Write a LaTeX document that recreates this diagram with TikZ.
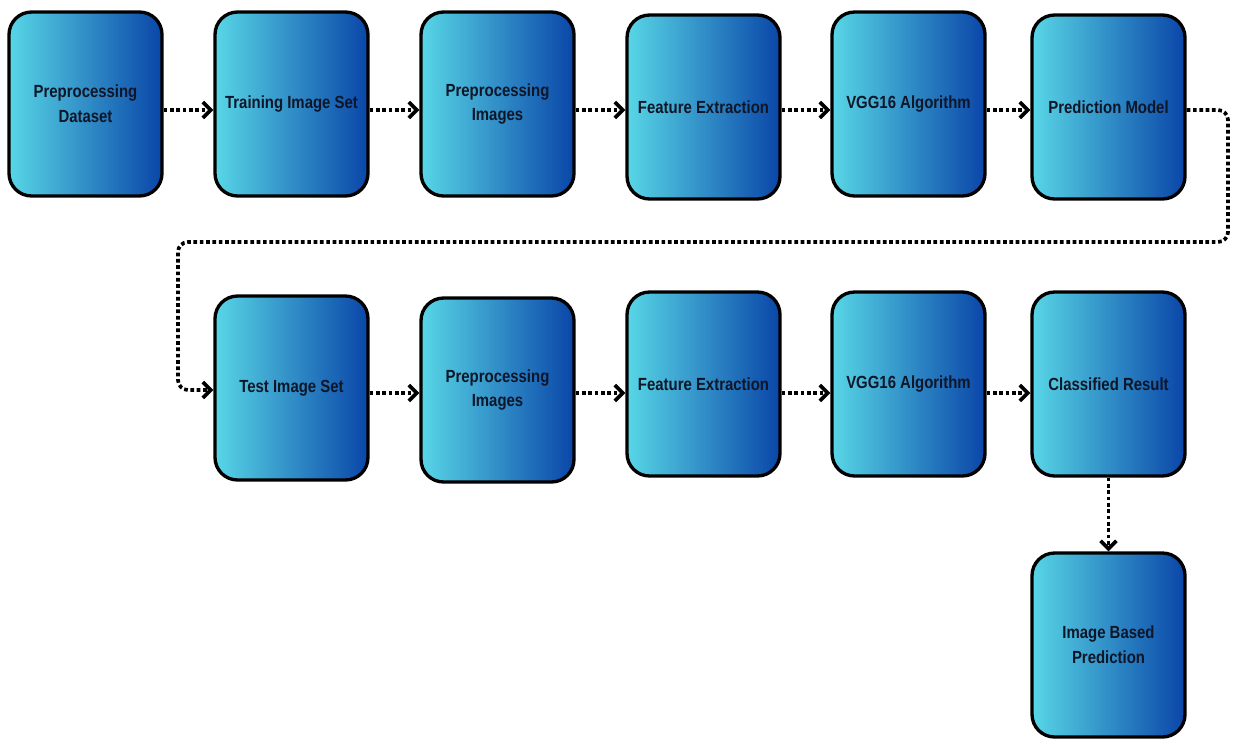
\documentclass[tikz,border=0pt]{standalone}
\usepackage{fontspec}
\setmainfont{Liberation Sans}[FakeStretch=0.85]
\usetikzlibrary{arrows.meta}
\definecolor{boxleft}{RGB}{88,214,230}
\definecolor{boxright}{RGB}{10,70,168}
\definecolor{boxtext}{RGB}{14,22,40}
\begin{document}
\begin{tikzpicture}[x=0.02cm, y=-0.02cm, line join=round, >={Straight Barb[length=4.5pt,width=9pt]},
  stage/.style={rounded corners=0.45cm, draw=black, line width=1.9pt, left color=boxleft, right color=boxright,
    minimum width=3.06cm, minimum height=3.68cm, align=center, text=boxtext, font=\bfseries\fontsize{10}{14}\selectfont},
  flow/.style={->, line width=2.1pt, dash pattern=on 2.1pt off 1.5pt}]
\useasboundingbox (0,0) rectangle (1236,738);
% training row
\node[stage] (pd)  at (85.5,104)  {Preprocessing\\Dataset};
\node[stage] (tis) at (291.5,104) {Training Image Set};
\node[stage] (pi1) at (497.5,104) {Preprocessing\\Images};
\node[stage] (fe1) at (703.5,107) {Feature Extraction};
\node[stage] (vg1) at (908.5,104) {VGG16 Algorithm};
\node[stage] (pm)  at (1108.5,107) {Prediction Model};
% test row
\node[stage] (ts)  at (291.5,388) {Test Image Set};
\node[stage] (pi2) at (497.5,390) {Preprocessing\\Images};
\node[stage] (fe2) at (703.5,384) {Feature Extraction};
\node[stage] (vg2) at (908.5,384) {VGG16 Algorithm};
\node[stage] (cr)  at (1108.5,384) {Classified Result};
\node[stage] (ib)  at (1108.5,645) {Image Based\\Prediction};
% connectors
\draw[flow] (pd.east |- 0,110)  -- (tis.west |- 0,110);
\draw[flow] (tis.east |- 0,110) -- (pi1.west |- 0,110);
\draw[flow] (pi1.east |- 0,110) -- (fe1.west |- 0,110);
\draw[flow] (fe1.east |- 0,110) -- (vg1.west |- 0,110);
\draw[flow] (vg1.east |- 0,110) -- (pm.west |- 0,110);
\coordinate (loopR) at (1228,242);
\coordinate (loopL) at (178,390);
\draw[flow, rounded corners=0.2cm] (pm.east |- 0,110) -| (loopR) -| (loopL) -- (ts.west |- 0,390);
\draw[flow] (ts.east |- 0,393)  -- (pi2.west |- 0,393);
\draw[flow] (pi2.east |- 0,393) -- (fe2.west |- 0,393);
\draw[flow] (fe2.east |- 0,393) -- (vg2.west |- 0,393);
\draw[flow] (vg2.east |- 0,393) -- (cr.west |- 0,393);
\draw[flow] (cr.south) -- (ib.north);
\end{tikzpicture}
\end{document}
